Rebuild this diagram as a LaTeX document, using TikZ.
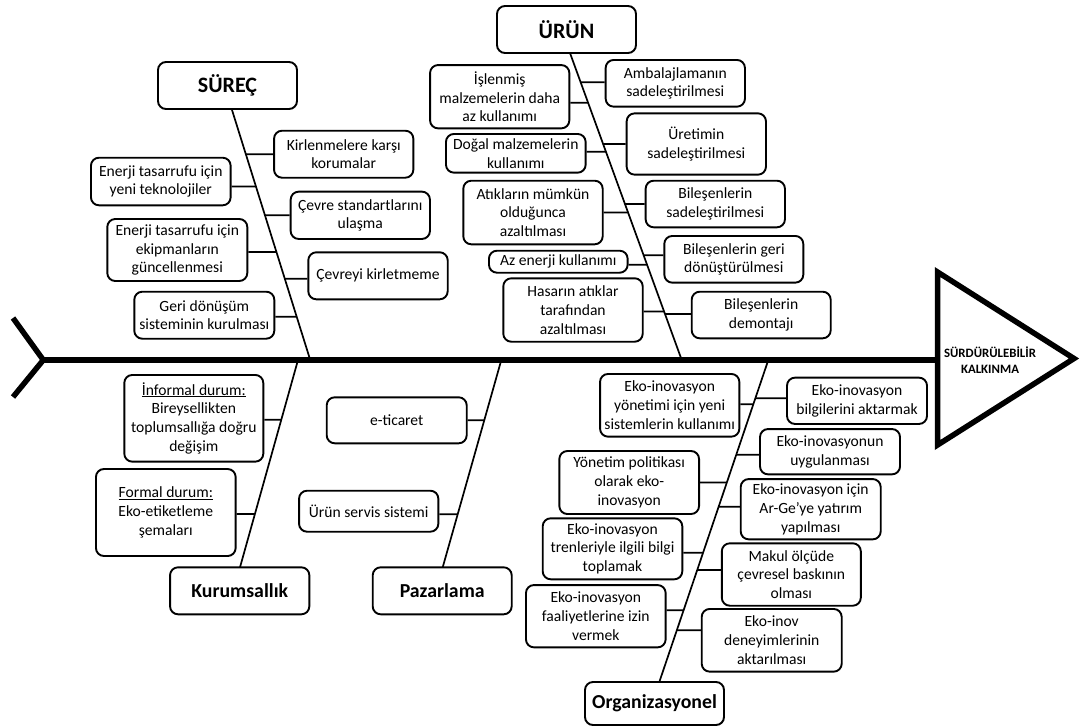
\documentclass[tikz,border=0pt]{standalone}
\usepackage{fontspec}
\setmainfont{Carlito}
% horizontal twig from a box side (L or R) to a bone, shifted vertically by #4 pt
\newcommand\branchline[4]{%
  \path ([yshift=#4pt]#1.west) coordinate (#1L) ([yshift=#4pt]#1.east) coordinate (#1R);
  \draw[conn] (#1#2) -- (intersection of #3T--#3B and #1L--#1R);
}
\begin{document}
\begin{tikzpicture}[x=1pt,y=-1pt,
  itembox/.style={draw, line width=1.9pt, rounded corners=8pt, align=center, inner sep=0pt,
    font=\fontsize{15.6}{18.8}\selectfont},
  titlebox/.style={itembox, font=\fontsize{19.8}{23}\selectfont\bfseries},
  bigtitle/.style={itembox, font=\fontsize{22}{25}\selectfont\bfseries},
  sz/.style 2 args={minimum width=#1pt, minimum height=#2pt},
  bone/.style={line width=1.7pt},
  conn/.style={line width=1.7pt},
  spine/.style={line width=5.5pt, line join=miter},
]
\fill[white] (0,0) rectangle (1083,726);
\useasboundingbox (0,0) rectangle (1083,726);

% ---------- spine, tail and head ----------
\coordinate (tail) at (43.3,360);
\coordinate (tailA) at (13,318);
\coordinate (tailB) at (13,397);
\coordinate (headL) at (937.5,360);
\coordinate (triT) at (937.5,272);
\coordinate (triP) at (1074,358.5);
\coordinate (triB) at (937.5,445);
\draw[spine] (tail) -- (headL);
\draw[spine] (tailA) -- (tail) -- (tailB);
\draw[spine] (triT) -- (triP) -- (triB) -- cycle;
\node[align=center, inner sep=0pt, font=\fontsize{12.8}{15.6}\selectfont\bfseries] (goal) at (990,360)
  {SÜRDÜRÜLEBİLİR\\KALKINMA};

% ---------- SÜREÇ ----------
\node[bigtitle, sz={139}{47}] (surec) at (227.5,85.5) {SÜREÇ};
\coordinate (sT) at (231.7,109);
\coordinate (sB) at (309.6,358);
\draw[bone] (sT) -- (sB);
\node[itembox, sz={139.3}{47}] (s1) at (343.7,154.2) {Kirlenmelere karşı\\korumalar};
\node[itembox, sz={139.7}{47.6}] (s2) at (160.8,181.5) {Enerji tasarrufu için\\yeni teknolojiler};
\node[itembox, sz={139.3}{47.3}] (s3) at (360.3,215.3) {Çevre standartlarını\\ulaşma};
\node[itembox, sz={140}{62}] (s4) at (177.3,250) {Enerji tasarrufu için\\ekipmanların\\güncellenmesi};
\node[itembox, sz={139.4}{47}] (s5) at (378,275.8) {Çevreyi kirletmeme};
\node[itembox, sz={140}{47}] (s6) at (204.3,315.2) {Geri dönüşüm\\sisteminin kurulması};
\branchline{s1}{L}{s}{0}
\branchline{s2}{R}{s}{-5}
\branchline{s3}{L}{s}{0}
\branchline{s4}{R}{s}{-2}
\branchline{s5}{L}{s}{-3}
\branchline{s6}{R}{s}{-1.5}

% ---------- ÜRÜN ----------
\node[bigtitle, sz={139}{47}] (urun) at (566.5,29.5) {ÜRÜN};
\coordinate (uT) at (570,53);
\coordinate (uB) at (681,358);
\draw[bone] (uT) -- (uB);
\node[itembox, sz={139.3}{46.7}] (u1) at (675.3,83.3) {Ambalajlamanın\\sadeleştirilmesi};
\node[itembox, sz={139.3}{63.3}] (u2) at (499.7,96.7) {İşlenmiş\\malzemelerin daha\\az kullanımı};
\node[itembox, sz={139.3}{61.3}] (u3) at (696.3,144) {Üretimin\\sadeleştirilmesi};
\node[itembox, sz={139.7}{38.7}] (u4) at (515.8,153.3) {Doğal malzemelerin\\kullanımı};
\node[itembox, sz={139.3}{46.6}] (u5) at (715.3,204) {Bileşenlerin\\sadeleştirilmesi};
\node[itembox, sz={139.4}{63.6}] (u6) at (533,212.5) {Atıkların mümkün\\olduğunca\\azaltılması};
\node[itembox, sz={139}{46.7}] (u7) at (733.8,259.3) {Bileşenlerin geri\\dönüştürülmesi};
\node[itembox, sz={138.7}{22}] (u8) at (558.3,261.7) {Az enerji kullanımı};
\node[itembox, sz={139.4}{63.4}] (u9) at (573,310) {Hasarın atıklar\\tarafından\\azaltılması};
\node[itembox, sz={139}{46.6}] (u10) at (761.2,315) {Bileşenlerin\\demontajı};
\branchline{u1}{L}{u}{1}
\branchline{u2}{R}{u}{-6}
\branchline{u3}{L}{u}{0}
\branchline{u4}{R}{u}{1.5}
\branchline{u5}{L}{u}{0}
\branchline{u6}{R}{u}{0}
\branchline{u7}{L}{u}{4}
\branchline{u8}{R}{u}{-3}
\branchline{u9}{R}{u}{-1.5}
\branchline{u10}{L}{u}{1}

% ---------- Kurumsallık ----------
\node[titlebox, sz={139.3}{47}] (kurum) at (239.7,590.8) {Kurumsallık};
\coordinate (kT) at (298,360);
\coordinate (kB) at (240,567.3);
\draw[bone] (kT) -- (kB);
\node[itembox, sz={139}{86.7}] (k1) at (193.8,418.3)
  {\underline{İnformal durum:}\\Bireysellikten\\toplumsallığa doğru\\değişim};
\node[itembox, sz={139.7}{87}] (k2) at (165.8,512.5)
  {\underline{Formal durum:}\\Eko-etiketleme\\şemaları};
\branchline{k1}{R}{k}{-1.5}
\branchline{k2}{R}{k}{-1.5}

% ---------- Pazarlama ----------
\node[titlebox, sz={139}{47}] (pazar) at (442.2,590.8) {Pazarlama};
\coordinate (pT) at (501.3,360);
\coordinate (pB) at (442.7,567.3);
\draw[bone] (pT) -- (pB);
\node[itembox, sz={140}{46}] (p1) at (396.7,420.3) {e-ticaret};
\node[itembox, sz={139.3}{41}] (p2) at (368.7,511.2) {Ürün servis sistemi};
\branchline{p1}{R}{p}{0}
\branchline{p2}{R}{p}{-3}

% ---------- Organizasyonel ----------
\node[titlebox, sz={139}{43}] (organ) at (654.5,703.5) {Organizasyonel};
\coordinate (oT) at (768.3,360);
\coordinate (oB) at (659.3,682);
\draw[bone] (oT) -- (oB);
\node[itembox, sz={139.3}{62.7}] (o1) at (669.7,405.3) {Eko-inovasyon\\yönetimi için yeni\\sistemlerin kullanımı};
\node[itembox, sz={140}{46.3}] (o2) at (857,400.8) {Eko-inovasyon\\bilgilerini aktarmak};
\node[itembox, sz={140}{45.3}] (o3) at (830,451.7) {Eko-inovasyonun\\uygulanması};
\node[itembox, sz={139.7}{63}] (o4) at (629.2,482.5) {Yönetim politikası\\olarak eko-\\inovasyon};
\node[itembox, sz={140}{60.3}] (o5) at (810.7,509.2) {Eko-inovasyon için\\Ar-Ge’ye yatırım\\yapılması};
\node[itembox, sz={139.6}{61}] (o6) at (612.5,548.8) {Eko-inovasyon\\trenleriyle ilgili bilgi\\toplamak};
\node[itembox, sz={139}{62.4}] (o7) at (791.3,574.5) {Makul ölçüde\\çevresel baskının\\olması};
\node[itembox, sz={139.7}{62.3}] (o8) at (595.8,616.2) {Eko-inovasyon\\faaliyetlerine izin\\vermek};
\node[itembox, sz={140}{62.7}] (o9) at (771.7,640.3) {Eko-inov\\deneyimlerinin\\aktarılması};
\branchline{o1}{R}{o}{1}
\branchline{o2}{L}{o}{2.5}
\branchline{o3}{L}{o}{-3}
\branchline{o4}{R}{o}{0}
\branchline{o5}{L}{o}{2.5}
\branchline{o6}{R}{o}{-4}
\branchline{o7}{L}{o}{4.5}
\branchline{o8}{R}{o}{6}
\branchline{o9}{L}{o}{10}
\end{tikzpicture}
\end{document}
